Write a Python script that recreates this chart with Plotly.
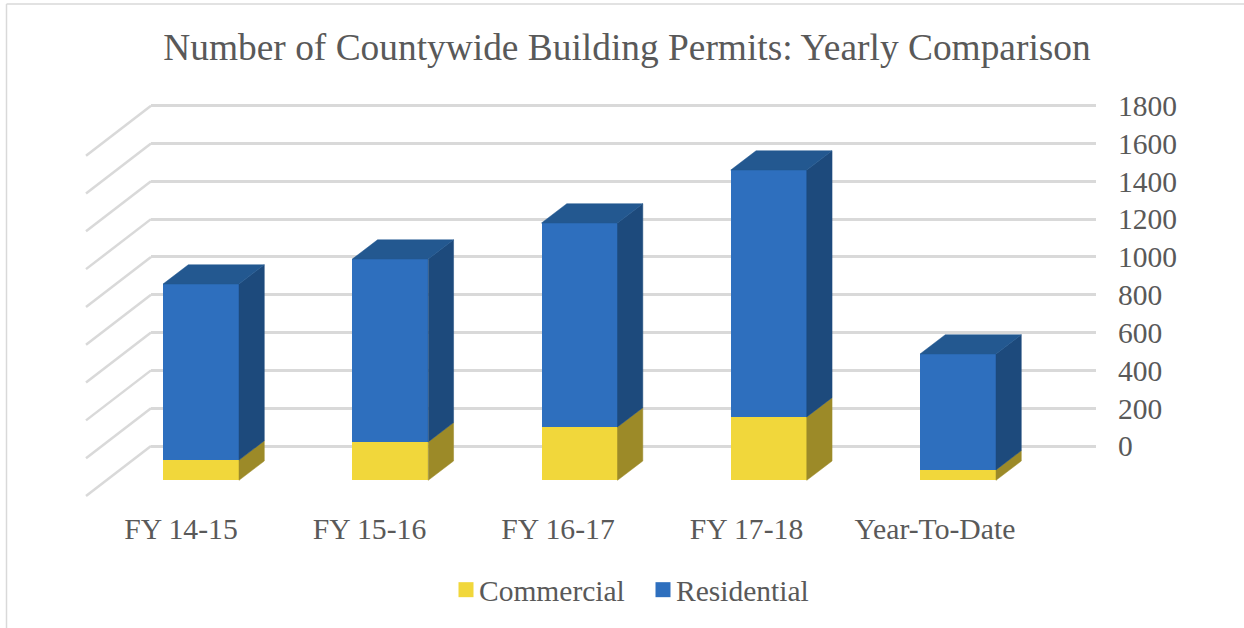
import plotly.graph_objects as go

categories = ["FY 14-15", "FY 15-16", "FY 16-17", "FY 17-18", "Year-To-Date"]
commercial = [107, 203, 282, 335, 55]
residential = [931, 967, 1079, 1306, 613]
y_ticks = [0, 200, 400, 600, 800, 1000, 1200, 1400, 1600, 1800]

W, H = 1244, 628
PX_PER_UNIT_Y = 0.18906   # px per permit
PX_PER_SLOT = 189.25      # px per category
FIRST_BAR_PX = 201.0
BAR_WIDTH = 76 / PX_PER_SLOT
DEPTH_X = 25.3 / PX_PER_SLOT
DEPTH_Y = 19.3 / PX_PER_UNIT_Y
WALL_X = 65 / PX_PER_SLOT
WALL_Y = 50 / PX_PER_UNIT_Y
TOP_PX, BOTTOM_PX = 60, 508
FRONT_ZERO_PX, BACK_ZERO_PX = 480.3, 446.0
WALL_LEFT_PX, WALL_RIGHT_PX = 151, 1096
LABEL_FIRST_PX, LABEL_STEP_PX = 181.0, 188.5

GRID = "#d9d9d9"
TEXT = "#595959"
BLUE, BLUE_SIDE, BLUE_TOP = "#2e6fbe", "#1d4a7c", "#235890"
YEL, YEL_SIDE = "#f1d73b", "#9c8a28"
FONT = "Liberation Serif"


def xrange_for(left, right):
    return [(left - FIRST_BAR_PX) / PX_PER_SLOT, (right - FIRST_BAR_PX) / PX_PER_SLOT]


def yrange_for(zero):
    return [(zero - BOTTOM_PX) / PX_PER_UNIT_Y, (zero - TOP_PX) / PX_PER_UNIT_Y]


def polygons(faces, color):
    xs, ys = [], []
    for pts in faces:
        xs += [p[0] for p in pts] + [pts[0][0], None]
        ys += [p[1] for p in pts] + [pts[0][1], None]
    return go.Scatter(x=xs, y=ys, xaxis="x2", yaxis="y2", mode="lines", fill="toself",
                      fillcolor=color, line=dict(width=0.5, color=color),
                      hoverinfo="skip", showlegend=False)


def side(i, low, high):
    r = i + BAR_WIDTH / 2
    return [(r, low), (r + DEPTH_X, low + DEPTH_Y), (r + DEPTH_X, high + DEPTH_Y), (r, high)]


def top(i, v):
    l, r = i - BAR_WIDTH / 2, i + BAR_WIDTH / 2
    return [(l, v), (l + DEPTH_X, v + DEPTH_Y), (r + DEPTH_X, v + DEPTH_Y), (r, v)]


idx = list(range(len(categories)))
totals = [c + r for c, r in zip(commercial, residential)]
fig = go.Figure()

# wall subplot: only carries the back-wall gridlines and right-hand tick labels
wall_x0 = xrange_for(WALL_LEFT_PX, WALL_RIGHT_PX)[0]
fig.add_trace(go.Scatter(x=[wall_x0], y=[0], mode="markers", marker=dict(size=1, opacity=0),
                         hoverinfo="skip", showlegend=False))

# side wall diagonals, converted from the back-wall scale to the front scale
wall_shift = (FRONT_ZERO_PX - BACK_ZERO_PX) / PX_PER_UNIT_Y
dx, dy = [], []
for t in y_ticks:
    dx += [wall_x0, wall_x0 - WALL_X, None]
    dy += [t + wall_shift, t + wall_shift - WALL_Y, None]
fig.add_trace(go.Scatter(x=dx, y=dy, xaxis="x2", yaxis="y2", mode="lines",
                         line=dict(color=GRID, width=2.5),
                         hoverinfo="skip", showlegend=False))

# front faces
fig.add_trace(go.Bar(x=idx, y=commercial, width=BAR_WIDTH, marker=dict(color=YEL, line=dict(width=0)),
                     xaxis="x2", yaxis="y2", showlegend=False, name="Commercial"))
fig.add_trace(go.Bar(x=idx, y=residential, width=BAR_WIDTH, marker=dict(color=BLUE, line=dict(width=0)),
                     xaxis="x2", yaxis="y2", showlegend=False, name="Residential"))

# depth faces, derived from the values
fig.add_trace(polygons([side(i, 0, commercial[i]) for i in idx], YEL_SIDE))
fig.add_trace(polygons([side(i, commercial[i], totals[i]) for i in idx], BLUE_SIDE))
fig.add_trace(polygons([top(i, totals[i]) for i in idx], BLUE_TOP))

# legend entries
for name, color in (("Commercial", YEL), ("Residential", BLUE)):
    fig.add_trace(go.Scatter(x=[None], y=[None], xaxis="x2", yaxis="y2", mode="markers", name=name,
                             marker=dict(symbol="square", size=15, color=color)))

dom_y = [1 - BOTTOM_PX / H, 1 - TOP_PX / H]
label_vals = [(LABEL_FIRST_PX + LABEL_STEP_PX * i - FIRST_BAR_PX) / PX_PER_SLOT for i in idx]
fig.update_layout(
    width=W, height=H, margin=dict(l=0, r=0, t=0, b=0),
    paper_bgcolor="white", plot_bgcolor="rgba(0,0,0,0)",
    barmode="stack", showlegend=True,
    font=dict(family=FONT, color=TEXT, size=29),
    title=dict(text="Number of Countywide Building Permits: Yearly Comparison",
               x=627 / W, xanchor="center", xref="paper", yref="container", y=1 - 47 / H, yanchor="middle",
               font=dict(family=FONT, size=37.4, color=TEXT)),
    xaxis=dict(domain=[WALL_LEFT_PX / W, WALL_RIGHT_PX / W], range=xrange_for(WALL_LEFT_PX, WALL_RIGHT_PX),
               visible=False, fixedrange=True),
    yaxis=dict(domain=dom_y, range=yrange_for(BACK_ZERO_PX), side="right", tickvals=y_ticks,
               showgrid=True, gridcolor=GRID, gridwidth=2.5, zeroline=False, showline=False,
               ticks="", ticklabelstandoff=21, tickfont=dict(family=FONT, size=29.5, color=TEXT), fixedrange=True),
    xaxis2=dict(domain=[0, 1], range=xrange_for(0, W), anchor="y2", tickmode="array",
                tickvals=label_vals, ticktext=categories,
                showgrid=False, zeroline=False, showline=False, ticks="", ticklabelstandoff=0,
                tickfont=dict(family=FONT, size=29.7, color=TEXT), fixedrange=True),
    yaxis2=dict(domain=dom_y, range=yrange_for(FRONT_ZERO_PX), anchor="x2", visible=False, fixedrange=True),
    legend=dict(orientation="h", x=439 / W, xanchor="left", y=1 - 590 / H, yanchor="middle",
                font=dict(family=FONT, size=29.5, color=TEXT), bgcolor="rgba(0,0,0,0)",
                entrywidth=152, entrywidthmode="pixels", traceorder="normal"),
    shapes=[
        dict(type="line", xref="paper", yref="paper", x0=6.5 / W, x1=1, y0=1 - 4 / H, y1=1 - 4 / H,
             line=dict(color=GRID, width=1.5)),
        dict(type="line", xref="paper", yref="paper", x0=6.5 / W, x1=6.5 / W, y0=0, y1=1 - 4 / H,
             line=dict(color=GRID, width=1.5)),
    ],
)
post = (
    "document.body.style.margin='0';document.body.style.overflow='hidden';"
    "document.querySelectorAll('.legend .legendpoints').forEach(function(g){g.setAttribute('transform','translate(7,0)');});"
)
fig.write_html("out.html", post_script=post, config=dict(displayModeBar=False))
